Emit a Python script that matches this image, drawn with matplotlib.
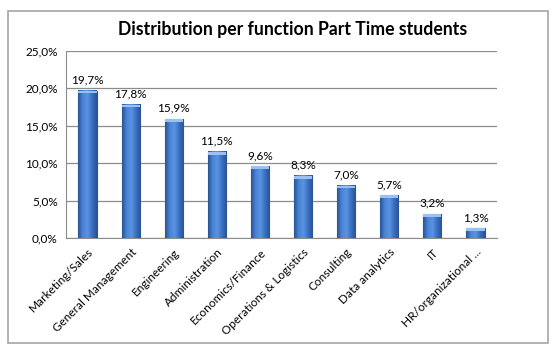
import matplotlib.pyplot as plt
import numpy as np
from matplotlib.colors import LinearSegmentedColormap
from matplotlib.patches import Rectangle

categories = ["Marketing/Sales", "General Management", "Engineering", "Administration",
              "Economics/Finance", "Operations & Logistics", "Consulting", "Data analytics",
              "IT", "HR/organizational ..."]
values = [19.7, 17.8, 15.9, 11.5, 9.6, 8.3, 7.0, 5.7, 3.2, 1.3]
yticks = [0, 5, 10, 15, 20, 25]

plt.rcParams["font.family"] = ["Lato", "DejaVu Sans"]

fig = plt.figure(figsize=(5.56, 3.54), dpi=100)
# outer chart frame
fig.patches.append(Rectangle((8 / 556, 11 / 354), 540 / 556, 332 / 354, transform=fig.transFigure,
                             fill=False, edgecolor="#a6a6a6", linewidth=1.2))

ax = fig.add_axes([66 / 556, 1 - 238 / 354, 431 / 556, 187 / 354])
x = np.arange(len(categories))
bars = ax.bar(x, values, width=0.42, color="#3d72c2", edgecolor="#2a5394", linewidth=0.8, zorder=3)

# cylinder-like shading: dark edges, lighter band left of centre
cyl = LinearSegmentedColormap.from_list("cyl", ["#2a5394", "#4a84d6", "#5a93e2", "#3a6fc0", "#2a5394"])
grad = np.linspace(0, 1, 60).reshape(1, -1)
for b in bars:
    bx, bw, bh = b.get_x(), b.get_width(), b.get_height()
    ax.imshow(grad, extent=(bx, bx + bw, 0, bh), aspect="auto", cmap=cyl, zorder=3.5)
    ax.add_patch(Rectangle((bx, bh - 0.35), bw, 0.35, color="#9cc0ef", zorder=4, linewidth=0))

for xi, v in zip(x, values):
    ax.text(xi, v + 0.7, f"{v:.1f}%".replace(".", ","), ha="center", va="bottom", fontsize=8.5)

ax.set_xlim(-0.5, len(categories) - 0.5)
ax.set_ylim(0, 25)
ax.set_yticks(yticks)
ax.set_yticklabels([f"{t:.1f}%".replace(".", ",") for t in yticks], fontsize=8.5)
ax.set_xticks(x)
ax.set_xticklabels(categories, rotation=45, ha="right", rotation_mode="anchor", fontsize=8.5)
ax.tick_params(axis="both", length=0, pad=6)
ax.grid(axis="y", color="#8c8c8c", linewidth=0.9, zorder=0)
for s in ["right", "top"]:
    ax.spines[s].set_visible(False)
ax.spines["left"].set_color("#8c8c8c")
ax.spines["bottom"].set_color("#8c8c8c")

fig.text(293 / 556, 1 - 30 / 354, "Distribution per function Part Time students",
         ha="center", va="center", fontsize=12.7, fontweight="bold")

fig.savefig("out.png", dpi=100)
